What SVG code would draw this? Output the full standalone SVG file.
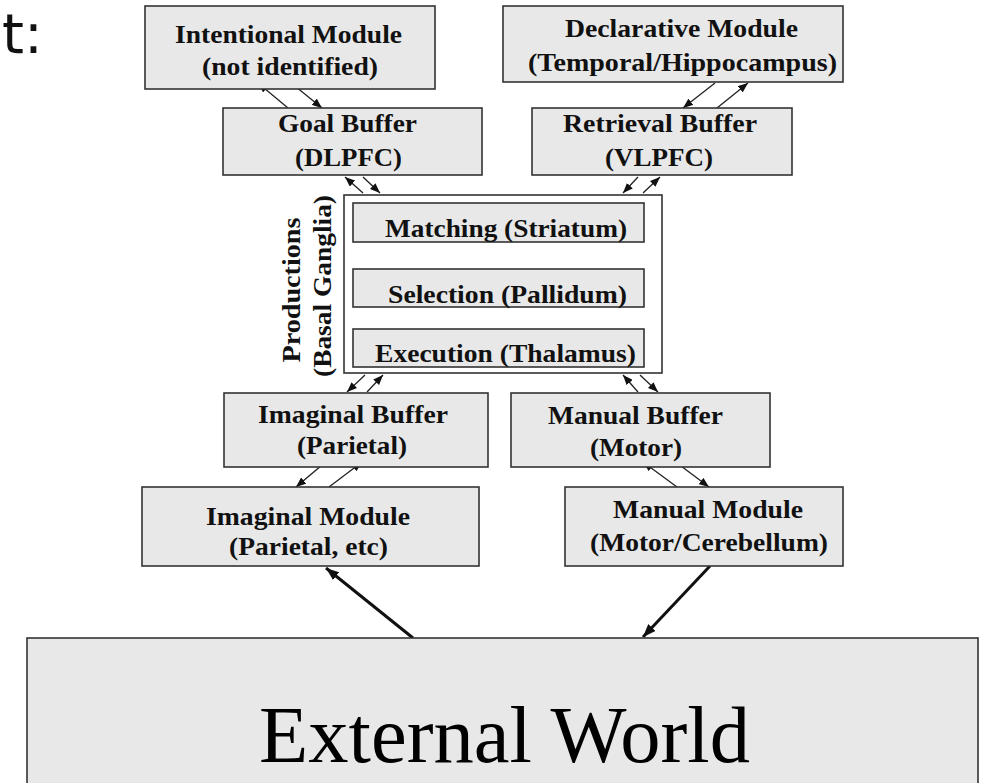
<svg xmlns="http://www.w3.org/2000/svg" width="989" height="783" viewBox="0 0 989 783">
<style>
.box{fill:#e8e8e8;stroke:#333;stroke-width:1.6}
.outer{fill:#fff;stroke:#333;stroke-width:1.6}
.lbl{font-family:"Liberation Serif","Times New Roman",serif;font-weight:bold;font-size:25px;fill:#111}
.big{font-family:"Liberation Serif","Times New Roman",serif;font-size:80px;fill:#000}
.thin{stroke:#222;stroke-width:1.3;fill:none;marker-end:url(#ah)}
.thick{stroke:#111;stroke-width:3;fill:none;marker-end:url(#ahb)}
</style>
<defs>
<marker id="ah" markerUnits="userSpaceOnUse" markerWidth="10" markerHeight="8" refX="10" refY="4" orient="auto">
<path d="M0,0 L10,4 L0,8 z" fill="#111"/>
</marker>
<marker id="ahb" markerUnits="userSpaceOnUse" markerWidth="13" markerHeight="10" refX="13" refY="5" orient="auto">
<path d="M0,0 L13,5 L0,10 z" fill="#111"/>
</marker>
</defs>
<rect width="989" height="783" fill="#fff"/>
<text x="2" y="53" font-family="DejaVu Sans,sans-serif" font-size="56" fill="#111">t:</text>

<g id="connectors">
<line class="thin" x1="288" y1="108" x2="258" y2="83"/>
<line class="thin" x1="290" y1="82" x2="322" y2="108"/>
<line class="thin" x1="363" y1="193" x2="345" y2="177"/>
<line class="thin" x1="363" y1="177" x2="380" y2="193"/>
<line class="thin" x1="715" y1="83" x2="683" y2="108"/>
<line class="thin" x1="717" y1="108" x2="748" y2="83"/>
<line class="thin" x1="638" y1="177" x2="623" y2="193"/>
<line class="thin" x1="643" y1="193" x2="660" y2="177"/>
<line class="thin" x1="503" y1="242" x2="503" y2="269"/>
<line class="thin" x1="503" y1="307" x2="503" y2="329"/>
<line class="thin" x1="365" y1="375" x2="347" y2="392"/>
<line class="thin" x1="367" y1="392" x2="383" y2="375"/>
<line class="thin" x1="638" y1="392" x2="623" y2="375"/>
<line class="thin" x1="640" y1="375" x2="658" y2="392"/>
<line class="thin" x1="328" y1="460" x2="296" y2="487"/>
<line class="thin" x1="329" y1="487" x2="362" y2="462"/>
<line class="thin" x1="677" y1="487" x2="643" y2="462"/>
<line class="thin" x1="677" y1="463" x2="709" y2="487"/>
<line class="thick" x1="413" y1="638" x2="326" y2="568"/>
<line class="thick" x1="710" y1="566" x2="643" y2="637"/>
</g>

<g id="intentional">
<rect class="box" x="145" y="6" width="290" height="83"/>
<text class="lbl" x="175" y="43" textLength="227" lengthAdjust="spacingAndGlyphs">Intentional Module</text>
<text class="lbl" x="202" y="75" textLength="176" lengthAdjust="spacingAndGlyphs">(not identified)</text>
</g>
<g id="declarative">
<rect class="box" x="503" y="6" width="340" height="76"/>
<text class="lbl" x="565" y="37" textLength="233" lengthAdjust="spacingAndGlyphs">Declarative Module</text>
<text class="lbl" x="528" y="71" textLength="309" lengthAdjust="spacingAndGlyphs">(Temporal/Hippocampus)</text>
</g>
<g id="goal">
<rect class="box" x="223" y="108" width="259" height="67"/>
<text class="lbl" x="278" y="132" textLength="139" lengthAdjust="spacingAndGlyphs">Goal Buffer</text>
<text class="lbl" x="295" y="166" textLength="107" lengthAdjust="spacingAndGlyphs">(DLPFC)</text>
</g>
<g id="retrieval">
<rect class="box" x="532" y="108" width="260" height="67"/>
<text class="lbl" x="563" y="132" textLength="194" lengthAdjust="spacingAndGlyphs">Retrieval Buffer</text>
<text class="lbl" x="605" y="166" textLength="108" lengthAdjust="spacingAndGlyphs">(VLPFC)</text>
</g>
<g id="productions">
<rect class="outer" x="344" y="195" width="318" height="178"/>
<text class="lbl" transform="translate(300,290) rotate(-90)" text-anchor="middle" textLength="145" lengthAdjust="spacingAndGlyphs">Productions</text>
<text class="lbl" transform="translate(331,286) rotate(-90)" text-anchor="middle" textLength="182" lengthAdjust="spacingAndGlyphs">(Basal Ganglia)</text>
</g>
<g id="matching">
<rect class="box" x="353" y="203" width="291" height="39"/>
<text class="lbl" x="385" y="237" textLength="242" lengthAdjust="spacingAndGlyphs">Matching (Striatum)</text>
</g>
<g id="selection">
<rect class="box" x="353" y="269" width="291" height="38"/>
<text class="lbl" x="388" y="303" textLength="239" lengthAdjust="spacingAndGlyphs">Selection (Pallidum)</text>
</g>
<g id="execution">
<rect class="box" x="353" y="329" width="291" height="38"/>
<text class="lbl" x="375" y="362" textLength="261" lengthAdjust="spacingAndGlyphs">Execution (Thalamus)</text>
</g>
<g id="imaginal-buffer">
<rect class="box" x="224" y="393" width="264" height="74"/>
<text class="lbl" x="258" y="423" textLength="190" lengthAdjust="spacingAndGlyphs">Imaginal Buffer</text>
<text class="lbl" x="297" y="454" textLength="110" lengthAdjust="spacingAndGlyphs">(Parietal)</text>
</g>
<g id="manual-buffer">
<rect class="box" x="511" y="393" width="259" height="74"/>
<text class="lbl" x="548" y="424" textLength="175" lengthAdjust="spacingAndGlyphs">Manual Buffer</text>
<text class="lbl" x="590" y="456" textLength="92" lengthAdjust="spacingAndGlyphs">(Motor)</text>
</g>
<g id="imaginal-module">
<rect class="box" x="142" y="487" width="337" height="79"/>
<text class="lbl" x="206" y="525" textLength="204" lengthAdjust="spacingAndGlyphs">Imaginal Module</text>
<text class="lbl" x="229" y="555" textLength="159" lengthAdjust="spacingAndGlyphs">(Parietal, etc)</text>
</g>
<g id="manual-module">
<rect class="box" x="565" y="487" width="278" height="79"/>
<text class="lbl" x="613" y="518" textLength="190" lengthAdjust="spacingAndGlyphs">Manual Module</text>
<text class="lbl" x="590" y="551" textLength="238" lengthAdjust="spacingAndGlyphs">(Motor/Cerebellum)</text>
</g>
<g id="external-world">
<rect class="box" x="27" y="638" width="951" height="160"/>
<text class="big" x="259" y="762" textLength="491" lengthAdjust="spacingAndGlyphs">External World</text>
</g>
</svg>
